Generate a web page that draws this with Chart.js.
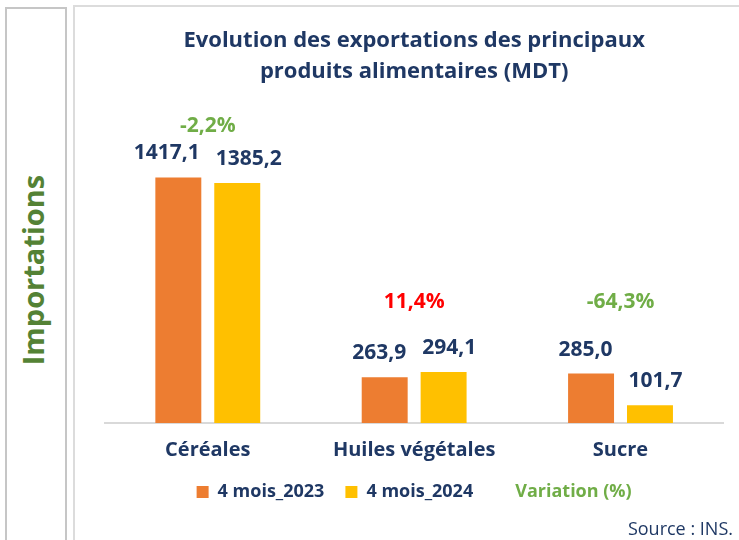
<!DOCTYPE html>
<html lang="fr">
<head>
<meta charset="utf-8">
<script src="https://cdn.jsdelivr.net/npm/chart.js@4"></script>
<style>
  html, body { margin: 0; padding: 0; background: #fff; overflow: hidden; }
  body { width: 739px; height: 540px; position: relative; font-family: 'Open Sans', sans-serif; }
  #side {
    position: absolute; left: 5px; top: 7px; width: 58px; height: 600px;
    border: 2px solid #c6c6c6; box-sizing: content-box;
  }
  #side span {
    position: absolute; left: 25px; top: 261px; transform: translate(-50%, -50%) rotate(-90deg);
    white-space: nowrap; color: #548235; font: bold 29px 'Open Sans', sans-serif;
  }
  #panel {
    position: absolute; left: 73px; top: 5px; width: 700px; height: 600px;
    border-left: 2px solid #dcdcdc; border-top: 2px solid #dcdcdc;
  }
  #wrap { position: absolute; left: 74px; top: 6px; width: 665px; height: 534px; }
  #source {
    position: absolute; right: 6px; top: 518px; line-height: 20px; color: #1f3864;
    font-size: 18px;
  }
</style>
</head>
<body>
<div id="side"><span>Importations</span></div>
<div id="panel"></div>
<div id="wrap"><canvas id="chart"></canvas></div>
<div id="source">Source : INS.</div>
<script>
// catégories et valeurs (MDT)
const categories = ['Céréales', 'Huiles végétales', 'Sucre'];
const mois2023 = [1417.1, 263.9, 285.0];
const mois2024 = [1385.2, 294.1, 101.7];
const variation = [-2.2, 11.4, -64.3];
const seriesNames = ['4 mois_2023', '4 mois_2024', 'Variation (%)'];

const NAVY = '#1f3864';
const ORANGE = '#ed7d31';
const YELLOW = '#ffc000';
const GREEN = '#70ad47';
const RED = '#ff0000';

const fmt = (v, d) => v.toFixed(d).replace('.', ',');

// étiquettes de valeurs (écartées si elles se chevauchent) + variations
const labelsPlugin = {
  id: 'barLabels',
  afterDatasetsDraw(chart) {
    const ctx = chart.ctx;
    const yScale = chart.scales.y;
    const m0 = chart.getDatasetMeta(0).data;
    const m1 = chart.getDatasetMeta(1).data;
    ctx.save();
    ctx.textAlign = 'center';
    ctx.textBaseline = 'middle';
    ctx.font = 'bold 21px "Open Sans"';
    ctx.fillStyle = NAVY;
    categories.forEach((c, i) => {
      const t0 = fmt(mois2023[i], 1), t1 = fmt(mois2024[i], 1);
      const w0 = ctx.measureText(t0).width, w1 = ctx.measureText(t1).width;
      let x0 = m0[i].x, x1 = m1[i].x;
      const need = (w0 + w1) / 2 + 16;
      if (x1 - x0 < need) {
        const shift = (need - (x1 - x0)) / 2;
        x0 -= shift; x1 += shift;
      }
      ctx.fillText(t0, x0, m0[i].y - 24);
      ctx.fillText(t1, x1, m1[i].y - 24);
    });
    variation.forEach((v, i) => {
      const top = Math.min(m0[i].y, m1[i].y);
      const y = Math.min(top - 51, yScale.getPixelForValue(700));
      const x = chart.scales.x.getPixelForValue(i);
      ctx.fillStyle = v > 0 ? RED : GREEN;
      ctx.fillText(fmt(v, 1) + '%', x, y);
    });
    ctx.restore();
  }
};

Chart.defaults.font.family = "'Open Sans'";

new Chart(document.getElementById('chart'), {
  type: 'bar',
  data: {
    labels: categories,
    datasets: [
      { label: seriesNames[0], data: mois2023, backgroundColor: ORANGE },
      { label: seriesNames[1], data: mois2024, backgroundColor: YELLOW },
      {
        type: 'line', label: seriesNames[2], data: variation, yAxisID: 'yv',
        showLine: false, pointRadius: 0, borderColor: 'rgba(0,0,0,0)', backgroundColor: 'rgba(0,0,0,0)'
      },
    ],
  },
  options: {
    responsive: true,
    maintainAspectRatio: false,
    animation: false,
    categoryPercentage: 0.571,
    barPercentage: 0.78,
    layout: { padding: { left: 30.6, right: 15.3, top: 0, bottom: 29 } },
    scales: {
      x: {
        grid: { display: false, drawTicks: false },
        border: { display: true, color: '#d9d9d9', width: 2 },
        ticks: { color: NAVY, font: { size: 20, weight: 'bold' }, padding: 15 },
        // boîte de l'axe plus courte pour rapprocher la légende
        afterFit(scale) { scale.height = 39; },
      },
      y: { display: false, min: 0, max: 1800 },
      yv: { display: false, min: -100, max: 100 },
    },
    plugins: {
      title: {
        display: true,
        text: ['Evolution des exportations des principaux', 'produits alimentaires (MDT)'],
        color: NAVY,
        font: { size: 22, weight: 'bold', lineHeight: 1.41 },
        padding: { top: 19.5, bottom: 23.5 },
      },
      legend: {
        position: 'bottom',
        onClick: null,
        labels: {
          boxWidth: 12, boxHeight: 12, padding: 21,
          font: { size: 18, weight: 'bold' },
          generateLabels(chart) {
            return chart.data.datasets.map((ds, i) => ({
              text: ds.label,
              fillStyle: i === 2 ? 'rgba(0,0,0,0)' : ds.backgroundColor,
              strokeStyle: 'rgba(0,0,0,0)',
              lineWidth: 0,
              fontColor: i === 2 ? GREEN : NAVY,
              datasetIndex: i,
            }));
          },
        },
      },
      tooltip: { enabled: false },
    },
  },
  plugins: [labelsPlugin],
});
</script>
</body>
</html>
